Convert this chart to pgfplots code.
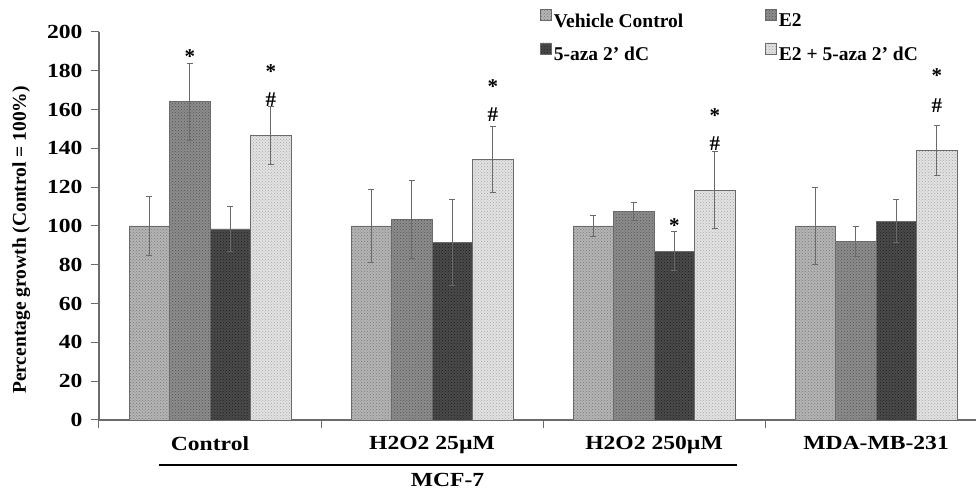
\documentclass[border=0pt]{standalone}
\usepackage{fontspec}
\setmainfont{Liberation Serif}
\usepackage{graphicx}
\usepackage{pgfplots}
\pgfplotsset{compat=1.18}
\usetikzlibrary{patterns}
\definecolor{cVC}{HTML}{B4B4B4}
\definecolor{pVC}{HTML}{7A7A7A}
\definecolor{cE}{HTML}{8C8C8C}
\definecolor{pE}{HTML}{555555}
\definecolor{cA}{HTML}{4A4A4A}
\definecolor{pA}{HTML}{1E1E1E}
\definecolor{cEA}{HTML}{E2E2E2}
\definecolor{pEA}{HTML}{A8A8A8}
\definecolor{axgray}{HTML}{6A6A6A}
\newcommand{\sx}[1]{\scalebox{1.18}[1]{#1}}
\begin{document}
\begin{tikzpicture}
\begin{axis}[
  scale only axis, width=877pt, height=388pt,
  xmin=-0.5, xmax=3.45, ymin=0, ymax=200,
  clip=false,
  ybar=0pt, bar width=0.1824,
  axis x line*=bottom, axis y line*=left,
  axis line style={-, draw=axgray, line width=1.1pt},
  ytick={0,20,...,200},
  yticklabel={\sx{\pgfmathprintnumber{\tick}}},
  yticklabel style={xshift=-5pt},
  /pgf/number format/assume math mode=true,
  tick align=outside,
  major tick length=8pt,
  tick style={draw=axgray, line width=1pt},
  xtick={-0.5,0.5,1.5,2.5},
  xticklabels={},
  extra x ticks={0,1,2,3},
  extra x tick labels={\sx{Control},\sx{H2O2 25µM},\sx{H2O2 250µM},\sx{MDA-MB-231}},
  extra x tick style={major tick length=0pt, xticklabel style={yshift=-13pt}},
  ticklabel style={font=\fontsize{20}{24}\selectfont\bfseries},
  ylabel={Percentage growth (Control = 100\%)},
  ylabel style={at={(rel axis cs:-0.0885,0.464)}, anchor=center, font=\fontsize{19.5}{22}\selectfont\bfseries},
  legend columns=2,
  legend cell align=left,
  legend style={draw=none, fill=none, at={(rel axis cs:0.5029,1.059)}, anchor=north west,
    font=\fontsize{19.5}{22}\selectfont\bfseries, inner sep=0pt,
    nodes={inner sep=2pt}, row sep=12pt,
    /tikz/every even column/.append style={column sep=80pt}},
  legend image code/.code={\draw[#1, line width=0.6pt] (0pt,0.5pt) rectangle (11pt,11.5pt);},
  error bars/error bar style={draw=axgray, line width=1pt},
  error bars/error mark options={rotate=90, mark size=3pt, draw=axgray, line width=1pt},
]
\addplot[fill=cVC, draw=axgray, line width=0.8pt, postaction={pattern=crosshatch dots, pattern color=pVC},
  error bars/.cd, y dir=both, y explicit]
  coordinates {(0,100) +- (0,15) (1,100) +- (0,19) (2,100) +- (0,5.5) (3,100) +- (0,20)};
\addlegendentry{Vehicle Control}
\addplot[fill=cE, draw=axgray, line width=0.8pt, postaction={pattern=crosshatch dots, pattern color=pE},
  error bars/.cd, y dir=both, y explicit]
  coordinates {(0,164) +- (0,20) (1,103.5) +- (0,20) (2,107.5) +- (0,4.5) (3,92) +- (0,7.5)};
\addlegendentry{E2}
\addplot[fill=cA, draw=axgray, line width=0.8pt, postaction={pattern=crosshatch dots, pattern color=pA},
  error bars/.cd, y dir=both, y explicit]
  coordinates {(0,98.5) +- (0,11.5) (1,91.5) +- (0,22) (2,87) +- (0,10) (3,102.5) +- (0,11)};
\addlegendentry{5-aza 2' dC}
\addplot[fill=cEA, draw=axgray, line width=0.8pt, postaction={pattern=crosshatch dots, pattern color=pEA},
  error bars/.cd, y dir=both, y explicit]
  coordinates {(0,146.5) +- (0,15) (1,134.5) +- (0,17) (2,118.5) +- (0,20) (3,139) +- (0,13)};
\addlegendentry{E2 + 5-aza 2' dC}
\draw[line width=1.2pt, black] (axis cs:-0.23,-23.2) -- (axis cs:2.374,-23.2);
\node[font=\fontsize{20}{24}\selectfont\bfseries] at (axis cs:1.07,-30.9) {\sx{MCF-7}};
\end{axis}
\begin{axis}[
  scale only axis, width=877pt, height=388pt,
  xmin=-0.5, xmax=3.45, ymin=0, ymax=200,
  clip=false, hide axis,
]
% significance marks
\addplot[draw=none, mark=none, nodes near coords={*},
  every node near coord/.append style={anchor=center, font=\fontsize{21}{24}\selectfont\bfseries}]
  coordinates {(-0.0912,187.5) (0.2736,179.5) (1.2736,172) (2.2736,157) (2.0912,100) (3.2736,177.5)};
\addplot[draw=none, mark=none, nodes near coords={\#},
  every node near coord/.append style={anchor=center, font=\fontsize{21}{24}\selectfont\bfseries}]
  coordinates {(0.2736,165) (1.2736,157.6) (2.2736,142.6) (3.2736,162)};
\end{axis}
\pgfresetboundingbox
\useasboundingbox (-99pt,-69pt) rectangle (877pt,420pt);
\end{tikzpicture}
\end{document}
